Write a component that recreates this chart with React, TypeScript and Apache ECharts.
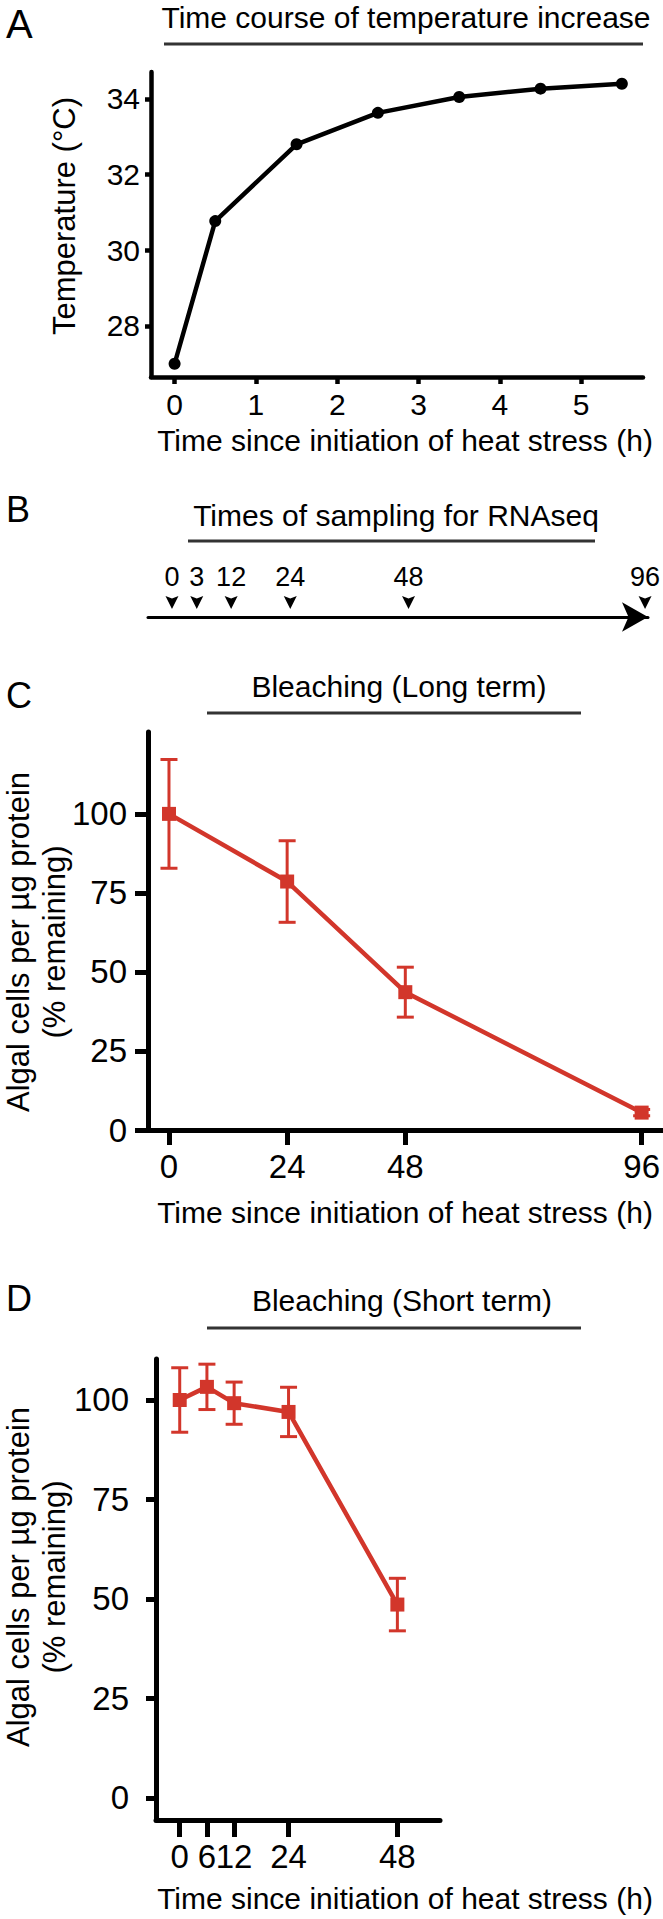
import React, { useEffect, useRef } from 'react';
import * as echarts from 'echarts';

const FONT = "'Liberation Sans', Arial, Helvetica, sans-serif";
const RED = '#d2362b';
const BLACK = '#000';

// ---- Panel A: time course of temperature increase ----
const tempTimes = [0, 0.5, 1.5, 2.5, 3.5, 4.5, 5.5];
const tempValues = [27.0, 30.77, 32.8, 33.63, 34.05, 34.27, 34.4];
const tempXTicks = [0, 1, 2, 3, 4, 5];
const tempYTicks = [28, 30, 32, 34];

// ---- Panel B: sampling times ----
const samplingTimes = [0, 3, 12, 24, 48, 96];

// ---- Panel C: long-term bleaching ----
const longTimes = [0, 24, 48, 96];
const longMeans = [100, 78.6, 43.6, 5.5];
const longErrors = [17.2, 12.9, 7.9, 1];
const longXTicks = [0, 24, 48, 96];

// ---- Panel D: short-term bleaching ----
const shortTimes = [0, 6, 12, 24, 48];
const shortMeans = [100, 103.3, 99.2, 97.0, 48.6];
const shortErrors = [8.1, 5.7, 5.3, 6.2, 6.6];
const shortXTicks = [0, 6, 12, 24, 48];

const pctTicks = [0, 25, 50, 75, 100];

const X_NAME = 'Time since initiation of heat stress (h)';
const Y_NAME_1 = 'Algal cells per µg protein';
const Y_NAME_2 = '(% remaining)';

function valueAxis(
  gridIndex: number,
  min: number,
  max: number,
  ticks: number[],
  o: { lw: number; tickLen: number; fontSize: number; margin: number }
) {
  return {
    type: 'value',
    gridIndex,
    min,
    max,
    splitLine: { show: false },
    axisLine: { show: true, onZero: false, lineStyle: { color: BLACK, width: o.lw } },
    axisTick: {
      show: true,
      length: o.tickLen,
      customValues: ticks,
      lineStyle: { color: BLACK, width: o.lw },
    },
    axisLabel: {
      show: true,
      customValues: ticks,
      fontSize: o.fontSize,
      fontFamily: FONT,
      color: BLACK,
      margin: o.margin,
    },
  };
}

function errorBars(axisIndex: number, times: number[], means: number[], errs: number[], capHalf: number) {
  return {
    type: 'custom',
    xAxisIndex: axisIndex,
    yAxisIndex: axisIndex,
    z: 1,
    data: times.map((t, i) => [t, means[i], errs[i]]),
    encode: { x: 0, y: 1 },
    renderItem: (params: any, api: any) => {
      const x = api.value(0);
      const m = api.value(1);
      const e = api.value(2);
      const top = api.coord([x, m + e]);
      const bot = api.coord([x, m - e]);
      const style = { stroke: RED, lineWidth: 3 };
      return {
        type: 'group',
        children: [
          { type: 'line', shape: { x1: top[0], y1: top[1], x2: bot[0], y2: bot[1] }, style },
          { type: 'line', shape: { x1: top[0] - capHalf, y1: top[1], x2: top[0] + capHalf, y2: top[1] }, style },
          { type: 'line', shape: { x1: bot[0] - capHalf, y1: bot[1], x2: bot[0] + capHalf, y2: bot[1] }, style },
        ],
      };
    },
  };
}

function txt(text: string, x: number, y: number, fontSize: number, align = 'center', rotation = 0) {
  return {
    type: 'text',
    x,
    y,
    rotation,
    style: {
      text,
      fill: BLACK,
      font: `${fontSize}px ${FONT}`,
      fontSize,
      fontFamily: FONT,
      align,
      verticalAlign: 'middle',
      textAlign: align,
      textVerticalAlign: 'middle',
    },
  };
}

function rule(x1: number, x2: number, y: number) {
  return {
    type: 'line',
    shape: { x1, y1: y, x2, y2: y },
    style: { stroke: '#333', lineWidth: 3 },
  };
}

export default function App() {
  const ref = useRef<HTMLDivElement>(null);
  useEffect(() => {
    if (!ref.current) return;
    const chart = echarts.init(ref.current, null, { renderer: 'svg' });
    const option: any = {
      animation: false,
      backgroundColor: '#fff',
      textStyle: { fontFamily: FONT },
      grid: [
        { left: 151, top: 72, width: 492, height: 305 },
        { left: 148, top: 600, width: 500, height: 17 },
        { left: 148, top: 732, width: 515, height: 398 },
        { left: 156, top: 1359, width: 284, height: 461 },
      ],
      xAxis: [
        valueAxis(0, -0.29, 5.76, tempXTicks, { lw: 4.5, tickLen: 7, fontSize: 30, margin: 12 }),
        {
          type: 'value',
          gridIndex: 1,
          min: -4.87,
          max: 96.6,
          splitLine: { show: false },
          axisTick: { show: false },
          axisLabel: { show: false },
          axisLine: {
            show: true,
            onZero: false,
            symbol: ['none', 'arrow'],
            symbolSize: [22, 26],
            lineStyle: { color: BLACK, width: 3 },
          },
        },
        valueAxis(2, -4.26, 100.26, longXTicks, { lw: 5, tickLen: 15, fontSize: 33, margin: 20 }),
        valueAxis(3, -5.23, 57.4, shortXTicks, { lw: 5, tickLen: 17, fontSize: 33, margin: 20 }),
      ],
      yAxis: [
        valueAxis(0, 26.65, 34.71, tempYTicks, { lw: 4.5, tickLen: 6, fontSize: 30, margin: 11 }),
        { type: 'value', gridIndex: 1, min: 0, max: 1, show: false },
        valueAxis(2, 0, 125.9, pctTicks, { lw: 5, tickLen: 13, fontSize: 33, margin: 21 }),
        valueAxis(3, -5.53, 110.3, pctTicks, { lw: 5, tickLen: 10, fontSize: 33, margin: 27 }),
      ],
      series: [
        {
          type: 'line',
          xAxisIndex: 0,
          yAxisIndex: 0,
          data: tempTimes.map((t, i) => [t, tempValues[i]]),
          symbol: 'circle',
          symbolSize: 12,
          showAllSymbol: true,
          lineStyle: { color: BLACK, width: 4.5 },
          itemStyle: { color: BLACK },
        },
        {
          type: 'custom',
          xAxisIndex: 1,
          yAxisIndex: 1,
          data: samplingTimes.map((t) => [t, 0]),
          encode: { x: 0, y: 1 },
          renderItem: (params: any, api: any) => {
            const t = api.value(0);
            const p = api.coord([t, 0]);
            // the "3" mark is nudged right in the original so it does not collide with "0"
            const x = p[0] + (t === 3 ? 10 : 0);
            const y = p[1];
            return {
              type: 'group',
              children: [
                {
                  type: 'polygon',
                  shape: {
                    points: [
                      [x - 6.5, y - 21],
                      [x, y - 18.5],
                      [x + 6.5, y - 21],
                      [x, y - 8],
                    ],
                  },
                  style: { fill: BLACK },
                },
                {
                  type: 'text',
                  x,
                  y: y - 40.5,
                  style: {
                    text: String(t),
                    fill: BLACK,
                    font: `27px ${FONT}`,
                    fontSize: 27,
                    fontFamily: FONT,
                    align: 'center',
                    verticalAlign: 'middle',
                  },
                },
              ],
            };
          },
        },
        errorBars(2, longTimes, longMeans, longErrors, 8.5),
        {
          type: 'line',
          xAxisIndex: 2,
          yAxisIndex: 2,
          z: 3,
          data: longTimes.map((t, i) => [t, longMeans[i]]),
          symbol: 'rect',
          symbolSize: 14,
          lineStyle: { color: RED, width: 4.5 },
          itemStyle: { color: RED },
        },
        errorBars(3, shortTimes, shortMeans, shortErrors, 8.5),
        {
          type: 'line',
          xAxisIndex: 3,
          yAxisIndex: 3,
          z: 3,
          data: shortTimes.map((t, i) => [t, shortMeans[i]]),
          symbol: 'rect',
          symbolSize: 14,
          lineStyle: { color: RED, width: 4.5 },
          itemStyle: { color: RED },
        },
      ],
      graphic: {
        elements: [
          txt('A', 6, 24, 40, 'left'),
          txt('Time course of temperature increase', 406, 17, 30),
          rule(164, 643, 44),
          txt(X_NAME, 405, 440, 30),
          txt('Temperature (°C)', 64, 216, 31, 'center', Math.PI / 2),

          txt('B', 6, 509, 36, 'left'),
          txt('Times of sampling for RNAseq', 396, 515, 30),
          rule(188, 595, 541),

          txt('C', 6, 695, 36, 'left'),
          txt('Bleaching (Long term)', 399, 686, 30),
          rule(207, 581, 713),
          txt(X_NAME, 405, 1212, 30),
          txt(Y_NAME_1, 18, 942, 31, 'center', Math.PI / 2),
          txt(Y_NAME_2, 54, 942, 31, 'center', Math.PI / 2),

          txt('D', 6, 1298, 36, 'left'),
          txt('Bleaching (Short term)', 402, 1300, 30),
          rule(207, 581, 1328),
          txt(X_NAME, 405, 1898, 30),
          txt(Y_NAME_1, 18, 1577, 31, 'center', Math.PI / 2),
          txt(Y_NAME_2, 54, 1577, 31, 'center', Math.PI / 2),
        ],
      },
    };
    chart.setOption(option);
    return () => chart.dispose();
  }, []);
  return (
    <div
      ref={ref}
      style={{ position: 'absolute', left: 0, top: 0, width: 663, height: 1919, background: '#fff' }}
    />
  );
}
